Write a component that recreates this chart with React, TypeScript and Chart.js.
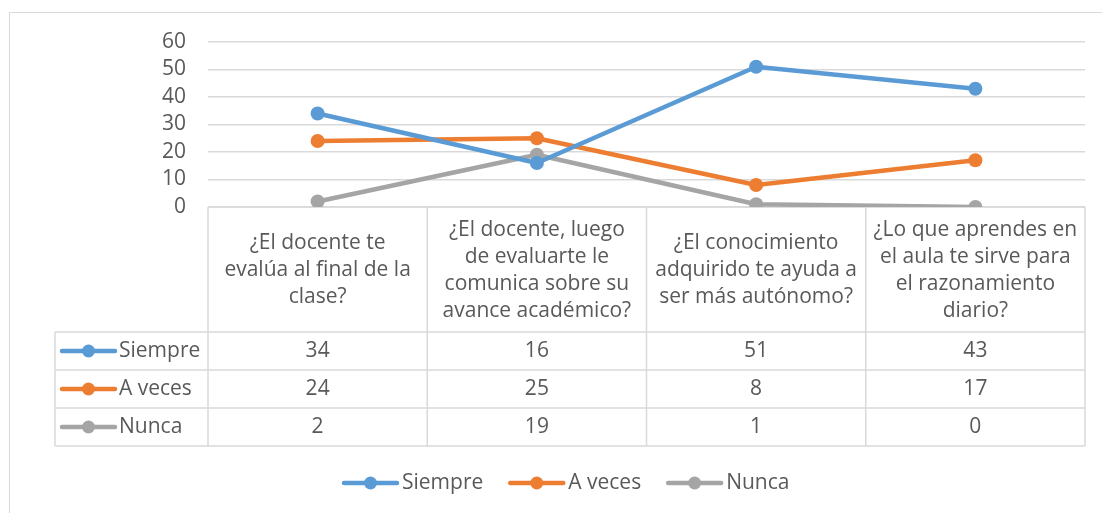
import React, { useEffect, useRef } from "react";
import { Chart, registerables } from "chart.js";

Chart.register(...registerables);

const categories: string[][] = [
  ["¿El docente te", "evalúa al final de la", "clase?"],
  ["¿El docente, luego", "de evaluarte le", "comunica sobre su", "avance académico?"],
  ["¿El conocimiento", "adquirido te ayuda a", "ser más autónomo?"],
  ["¿Lo que aprendes en", "el aula te sirve para", "el razonamiento", "diario?"],
];
const seriesNames = ["Siempre", "A veces", "Nunca"];
const siempre = [34, 16, 51, 43];
const aVeces = [24, 25, 8, 17];
const nunca = [2, 19, 1, 0];
const seriesColors = ["#5B9BD5", "#ED7D31", "#A5A5A5"];

const FONT = "'Open Sans', 'Noto Sans', sans-serif";
const FS = 21;
const TXT = "#595959";
const GRID = "#D9D9D9";

export default function App() {
  const ref = useRef<HTMLCanvasElement | null>(null);
  useEffect(() => {
    if (!ref.current) return;
    const seriesData = [siempre, aVeces, nunca];

    const tablePlugin = {
      id: "tablePlugin",
      beforeDatasetsDraw(chart: any) {
        const ctx = chart.ctx as CanvasRenderingContext2D;
        const x = chart.scales.x;
        const area = chart.chartArea;
        const n = categories.length;
        const band = (area.right - area.left) / n;
        const top = area.bottom;
        const headBottom = 332;
        const rowH = 38;
        const tableLeft = 55;
        const rows = seriesNames.length;
        const tableBottom = headBottom + rowH * rows;
        ctx.save();
        // outer chart border
        ctx.strokeStyle = GRID;
        ctx.lineWidth = 1;
        ctx.strokeRect(9.5, 12.5, 1200, 600);
        ctx.strokeStyle = "#D9D9D9";
        ctx.lineWidth = 1.5;
        ctx.beginPath();
        ctx.moveTo(area.left, top);
        ctx.lineTo(area.right, top);
        for (let r = 0; r <= rows; r++) {
          const y = headBottom + rowH * r;
          ctx.moveTo(tableLeft, y);
          ctx.lineTo(area.right, y);
        }
        for (let i = 0; i <= n; i++) {
          const xx = area.left + band * i;
          ctx.moveTo(xx, top);
          ctx.lineTo(xx, tableBottom);
        }
        ctx.moveTo(tableLeft, headBottom);
        ctx.lineTo(tableLeft, tableBottom);
        ctx.stroke();

        ctx.fillStyle = TXT;
        ctx.font = `${FS}px ${FONT}`;
        ctx.textAlign = "center";
        ctx.textBaseline = "middle";
        const lh = 27;
        const midHead = (top + headBottom) / 2 + 1;
        categories.forEach((lines, i) => {
          const cx = x.getPixelForValue(i);
          const start = midHead - ((lines.length - 1) * lh) / 2;
          lines.forEach((ln, j) => ctx.fillText(ln, cx, start + j * lh));
        });
        seriesData.forEach((vals, r) => {
          const cy = headBottom + rowH * r + rowH / 2;
          vals.forEach((v, i) => {
            ctx.fillStyle = TXT;
            ctx.fillText(String(v), x.getPixelForValue(i), cy);
          });
          const ky = cy;
          ctx.strokeStyle = seriesColors[r];
          ctx.lineWidth = 4.5;
          ctx.lineCap = "round";
          ctx.beginPath();
          ctx.moveTo(62, ky);
          ctx.lineTo(115, ky);
          ctx.stroke();
          ctx.fillStyle = seriesColors[r];
          ctx.beginPath();
          ctx.arc(88.5, ky, 6.5, 0, Math.PI * 2);
          ctx.fill();
          ctx.fillStyle = TXT;
          ctx.textAlign = "left";
          ctx.fillText(seriesNames[r], 119, cy);
          ctx.textAlign = "center";
        });

        // bottom legend
        let lx = 343;
        const ly = 483;
        seriesNames.forEach((name, r) => {
          ctx.strokeStyle = seriesColors[r];
          ctx.lineWidth = 4.5;
          ctx.lineCap = "round";
          ctx.beginPath();
          ctx.moveTo(lx + 1, ly);
          ctx.lineTo(lx + 54, ly);
          ctx.stroke();
          ctx.fillStyle = seriesColors[r];
          ctx.beginPath();
          ctx.arc(lx + 27.5, ly, 6.5, 0, Math.PI * 2);
          ctx.fill();
          ctx.fillStyle = TXT;
          ctx.textAlign = "left";
          ctx.fillText(name, lx + 59, ly);
          lx += 59 + ctx.measureText(name).width + 26;
        });
        ctx.restore();
      },
    };

    const chart = new Chart(ref.current, {
      type: "line",
      data: {
        labels: categories.map((c) => c.join(" ")),
        datasets: seriesNames.map((name, r) => ({
          label: name,
          data: seriesData[r],
          borderColor: seriesColors[r],
          backgroundColor: seriesColors[r],
          borderWidth: 4.5,
          pointRadius: 7,
          pointHoverRadius: 7,
          pointBorderWidth: 0,
          pointBackgroundColor: seriesColors[r],
          tension: 0,
          borderCapStyle: "round" as const,
          borderJoinStyle: "round" as const,
        })),
      },
      options: {
        animation: false,
        responsive: false,
        maintainAspectRatio: false,
        layout: { padding: { left: 0, top: 42, right: 17, bottom: 306 } },
        plugins: { legend: { display: false }, tooltip: { enabled: false } },
        scales: {
          x: { type: "category", offset: true, display: false },
          y: {
            min: 0,
            max: 60,
            ticks: {
              stepSize: 10,
              autoSkip: false,
              color: TXT,
              font: { family: FONT, size: FS },
              padding: 22,
            },
            grid: { color: GRID, lineWidth: 1.5, drawTicks: false },
            border: { display: false },
            afterFit: (scale: any) => {
              scale.width = 208;
            },
          },
        },
      },
      plugins: [tablePlugin],
    });
    return () => chart.destroy();
  }, []);

  return (
    <div style={{ position: "fixed", left: 0, top: 0, width: 1102, height: 513, background: "#fff" }}>
      <canvas ref={ref} width={1102} height={513} style={{ width: 1102, height: 513 }} />
    </div>
  );
}
